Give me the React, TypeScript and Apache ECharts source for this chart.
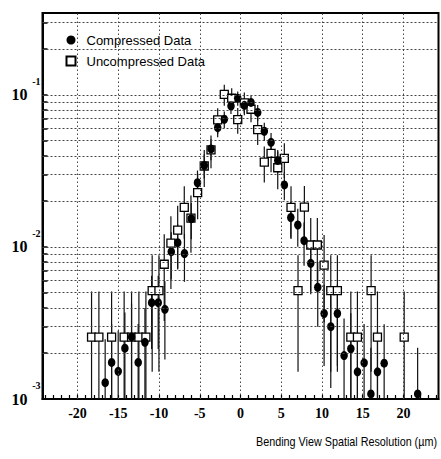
import React, { useEffect, useRef } from "react";
import * as echarts from "echarts";

// Compressed data (filled circles)
const compX = [-16.61, -15.82, -15.01, -14.19, -13.37, -12.56, -11.73, -10.91, -10.1, -9.28, -8.5, -7.71, -6.88, -6.04, -5.28, -4.45, -3.62, -2.8, -1.99, -1.17, -0.34, 0.47, 1.29, 2.11, 2.92, 3.75, 4.57, 5.38, 6.17, 7.03, 7.8, 8.62, 9.48, 10.26, 11.08, 11.89, 12.71, 13.54, 14.35, 15.17, 16.0, 16.81, 17.63, 21.74];
const compY = [0.00128, 0.00174, 0.00152, 0.00216, 0.00256, 0.00174, 0.00236, 0.0043, 0.0043, 0.00389, 0.00931, 0.01067, 0.00906, 0.01535, 0.02645, 0.03438, 0.04412, 0.0609, 0.0692, 0.0846, 0.0951, 0.0855, 0.0893, 0.0767, 0.0577, 0.0488, 0.0371, 0.02558, 0.01563, 0.01395, 0.011, 0.00781, 0.00543, 0.00365, 0.00299, 0.00365, 0.00193, 0.00214, 0.00151, 0.00173, 0.00108, 0.00151, 0.00172, 0.00108];
const compErr = [0.00119, 0.00138, 0.00129, 0.00154, 0.00168, 0.00138, 0.00161, 0.00217, 0.00217, 0.00207, 0.0032, 0.00343, 0.00316, 0.00411, 0.00539, 0.00615, 0.00697, 0.00818, 0.00872, 0.00965, 0.01023, 0.0097, 0.00991, 0.00919, 0.00797, 0.00733, 0.00639, 0.0053, 0.00415, 0.00392, 0.00348, 0.00293, 0.00244, 0.002, 0.00181, 0.002, 0.00146, 0.00153, 0.00129, 0.00138, 0.00109, 0.00129, 0.00138, 0.00109];

// Uncompressed data (open squares)
const uncX = [-18.28, -17.38, -15.82, -14.28, -13.37, -12.47, -11.61, -10.84, -10.01, -9.36, -8.54, -7.71, -6.9, -6.08, -5.26, -4.45, -3.62, -2.8, -1.99, -1.08, -0.34, 0.47, 1.29, 2.11, 2.92, 3.75, 4.57, 5.38, 6.2, 7.06, 7.84, 8.62, 9.43, 10.26, 11.08, 11.89, 13.54, 14.35, 16.03, 16.81, 20.09];
const uncY = [0.00255, 0.00255, 0.00255, 0.00255, 0.00255, 0.00255, 0.00255, 0.00516, 0.00516, 0.0077, 0.0106, 0.0129, 0.0182, 0.0155, 0.0228, 0.0341, 0.0435, 0.0685, 0.1008, 0.0951, 0.0688, 0.0886, 0.0805, 0.0591, 0.0362, 0.0413, 0.0332, 0.0383, 0.0182, 0.00516, 0.0183, 0.0103, 0.0103, 0.0076, 0.00516, 0.00516, 0.00255, 0.00255, 0.00516, 0.00255, 0.00255];
const uncErr = [0.00255, 0.00255, 0.00255, 0.00255, 0.00255, 0.00255, 0.00255, 0.00365, 0.00365, 0.00444, 0.0053, 0.00578, 0.00688, 0.00633, 0.0076, 0.0093, 0.0106, 0.0132, 0.016, 0.0156, 0.0132, 0.015, 0.0143, 0.0123, 0.0096, 0.0103, 0.0092, 0.0099, 0.0069, 0.00365, 0.0069, 0.0052, 0.0052, 0.0044, 0.00365, 0.00365, 0.00255, 0.00255, 0.00365, 0.00255, 0.00255];

// Axes
const xTickLabels = [-20, -15, -10, -5, 0, 5, 10, 15, 20];
const xMinorTicks = Array.from({ length: 49 }, (_, i) => i - 24);
const yDecades = [0.001, 0.01, 0.1];
const yGridValues = [0.002, 0.003, 0.004, 0.005, 0.006, 0.007, 0.008, 0.009, 0.01, 0.02, 0.03, 0.04, 0.05, 0.06, 0.07, 0.08, 0.09, 0.1, 0.2, 0.3];
const X_MIN = -24.3;
const X_MAX = 24.3;
const Y_MIN = 0.001;
const Y_MAX = 0.346;

const lg = (v: number) => Math.log10(v);

const errData = (xs: number[], ys: number[], es: number[]) =>
  xs.map((x, i) => [x, lg(Math.max(ys[i] - es[i], Y_MIN)), lg(Math.min(ys[i] + es[i], Y_MAX))]);

export default function App() {
  const ref = useRef<HTMLDivElement>(null);
  useEffect(() => {
    if (!ref.current) return;
    const chart = echarts.init(ref.current, undefined, { renderer: "svg" });
    const serif = "'Liberation Serif', 'Times New Roman', serif";
    const sans = "'Liberation Sans', Arial, sans-serif";
    const renderErr = (params: any, api: any) => {
      const x = api.value(0);
      const p1 = api.coord([x, api.value(2)]);
      const p2 = api.coord([x, api.value(1)]);
      return {
        type: "line",
        shape: { x1: p1[0], y1: p1[1], x2: p2[0], y2: p2[1] },
        style: { stroke: "#111", lineWidth: 1.2 },
      };
    };
    const yBase = {
      type: "value",
      min: lg(Y_MIN),
      max: lg(Y_MAX),
      position: "left",
      splitLine: { show: false },
    };
    const option: any = {
      animation: false,
      backgroundColor: "#fff",
      grid: {
        left: 42.5,
        right: 2.5,
        top: 13,
        bottom: 60,
        show: true,
        borderColor: "#000",
        borderWidth: 2,
        containLabel: false,
      },
      legend: {
        orient: "vertical",
        left: 60.5,
        top: 28,
        itemWidth: 9,
        itemHeight: 9,
        itemGap: 7,
        selectedMode: false,
        textStyle: { fontFamily: sans, fontSize: 13, color: "#000", lineHeight: 14, padding: [0, 0, 0, 6] },
        data: [
          { name: "Compressed Data", icon: "circle" },
          { name: "Uncompressed Data", icon: "rect" },
        ],
      },
      xAxis: {
        type: "value",
        min: X_MIN,
        max: X_MAX,
        axisLine: { show: true, onZero: false, lineStyle: { color: "#000", width: 2 } },
        axisTick: { show: true, inside: true, length: 4, customValues: xMinorTicks, lineStyle: { color: "#000", width: 1.2 } },
        axisLabel: {
          customValues: xTickLabels,
          margin: 7,
          fontFamily: serif,
          fontWeight: "bold",
          fontSize: 14,
          color: "#000",
          formatter: (v: number) => String(Math.round(v)),
        },
        splitLine: { show: false },
      },
      yAxis: [
        {
          ...yBase,
          axisLine: { show: true, onZero: false, lineStyle: { color: "#000", width: 2 } },
          axisTick: {
            show: true,
            inside: true,
            length: 5,
            customValues: yGridValues.map(lg),
            lineStyle: { color: "#000", width: 1.5 },
          },
          axisLabel: {
            customValues: yDecades.map(lg),
            margin: 15,
            fontFamily: serif,
            fontWeight: "bold",
            fontSize: 16,
            color: "#000",
            formatter: () => "10",
          },
        },
        {
          ...yBase,
          axisLine: { show: false, onZero: false },
          axisTick: { show: false },
          axisLabel: {
            customValues: yDecades.map(lg),
            margin: 2,
            fontFamily: serif,
            fontWeight: "bold",
            fontSize: 10,
            lineHeight: 27,
            color: "#000",
            formatter: (v: number) => `${Math.round(v)}\n `,
          },
        },
      ],
      graphic: [
        {
          type: "text",
          x: 437,
          y: 442,
          scaleX: 0.83,
          style: {
            text: "Bending View Spatial Resolution (\u00b5m)",
            fontFamily: sans,
            fontSize: 13,
            fill: "#000",
            align: "right",
            verticalAlign: "middle",
          },
        },
      ],
      series: [
        {
          name: "grid",
          type: "line",
          data: [],
          silent: true,
          showSymbol: false,
          z: 1,
          markLine: {
            silent: true,
            symbol: "none",
            label: { show: false },
            animation: false,
            data: [
              ...yGridValues.map((v) => ({ yAxis: lg(v), lineStyle: { type: [2, 2], color: "#444", width: 1 } })),
              ...xTickLabels.map((v) => ({ xAxis: v, lineStyle: { type: [1.5, 2.5], color: "#444", width: 1 } })),
            ],
          },
        },
        {
          name: "uncErr",
          type: "custom",
          renderItem: renderErr,
          data: errData(uncX, uncY, uncErr),
          encode: { x: 0, y: [1, 2] },
          silent: true,
          clip: true,
          z: 2,
        },
        {
          name: "compErr",
          type: "custom",
          renderItem: renderErr,
          data: errData(compX, compY, compErr),
          encode: { x: 0, y: [1, 2] },
          silent: true,
          clip: true,
          z: 2,
        },
        {
          name: "Uncompressed Data",
          type: "scatter",
          symbol: "rect",
          symbolSize: 8,
          data: uncX.map((x, i) => [x, lg(uncY[i])]),
          itemStyle: { color: "#fff", borderColor: "#000", borderWidth: 1.3, opacity: 1 },
          z: 3,
        },
        {
          name: "Compressed Data",
          type: "scatter",
          symbol: "circle",
          symbolSize: [7.5, 9],
          data: compX.map((x, i) => [x, lg(compY[i])]),
          itemStyle: { color: "#000", opacity: 1 },
          z: 4,
        },
      ],
    };
    chart.setOption(option);
    return () => chart.dispose();
  }, []);
  return (
    <div
      ref={ref}
      style={{ position: "absolute", left: 0, top: 0, width: 441, height: 459, background: "#fff" }}
    />
  );
}
